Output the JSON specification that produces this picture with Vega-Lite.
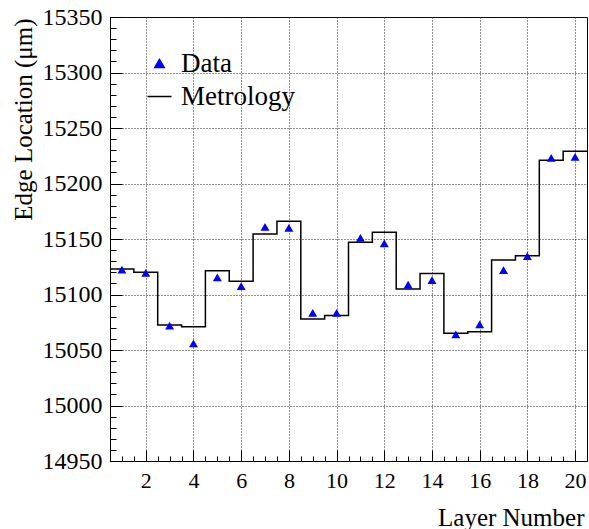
{
  "$schema": "https://vega.github.io/schema/vega-lite/v6.json",
  "width": 477,
  "height": 444,
  "autosize": {"type": "none"},
  "padding": {"left": 110, "top": 17, "right": 2, "bottom": 68},
  "background": "white",
  "config": {
    "font": "Liberation Serif",
    "view": {"stroke": "black", "strokeWidth": 1},
    "style": {"guide-label": {"font": "Liberation Serif"}, "guide-title": {"font": "Liberation Serif"}},
    "axis": {
      "labelFont": "Liberation Serif",
      "titleFont": "Liberation Serif",
      "labelColor": "black",
      "titleColor": "black",
      "titleFontWeight": "normal",
      "domainColor": "black",
      "tickColor": "black"
    }
  },
  "datasets": {
    "points": [
      {"layer": 1, "edge": 15122.5, "series": "Data"},
      {"layer": 2, "edge": 15119.5, "series": "Data"},
      {"layer": 3, "edge": 15072, "series": "Data"},
      {"layer": 4, "edge": 15056, "series": "Data"},
      {"layer": 5, "edge": 15115.5, "series": "Data"},
      {"layer": 6, "edge": 15107.5, "series": "Data"},
      {"layer": 7, "edge": 15161, "series": "Data"},
      {"layer": 8, "edge": 15160, "series": "Data"},
      {"layer": 9, "edge": 15083.5, "series": "Data"},
      {"layer": 10, "edge": 15083.5, "series": "Data"},
      {"layer": 11, "edge": 15151, "series": "Data"},
      {"layer": 12, "edge": 15146, "series": "Data"},
      {"layer": 13, "edge": 15109, "series": "Data"},
      {"layer": 14, "edge": 15113, "series": "Data"},
      {"layer": 15, "edge": 15064, "series": "Data"},
      {"layer": 16, "edge": 15073, "series": "Data"},
      {"layer": 17, "edge": 15122, "series": "Data"},
      {"layer": 18, "edge": 15134.5, "series": "Data"},
      {"layer": 19, "edge": 15223, "series": "Data"},
      {"layer": 20, "edge": 15224, "series": "Data"}
    ],
    "metrology": [
      {"binStart": 0.5, "edge": 15123, "series": "Metrology"},
      {"binStart": 1.5, "edge": 15120, "series": "Metrology"},
      {"binStart": 2.5, "edge": 15072.5, "series": "Metrology"},
      {"binStart": 3.5, "edge": 15071, "series": "Metrology"},
      {"binStart": 4.5, "edge": 15121.5, "series": "Metrology"},
      {"binStart": 5.5, "edge": 15112, "series": "Metrology"},
      {"binStart": 6.5, "edge": 15154.5, "series": "Metrology"},
      {"binStart": 7.5, "edge": 15166, "series": "Metrology"},
      {"binStart": 8.5, "edge": 15078, "series": "Metrology"},
      {"binStart": 9.5, "edge": 15081, "series": "Metrology"},
      {"binStart": 10.5, "edge": 15147, "series": "Metrology"},
      {"binStart": 11.5, "edge": 15156, "series": "Metrology"},
      {"binStart": 12.5, "edge": 15105, "series": "Metrology"},
      {"binStart": 13.5, "edge": 15119, "series": "Metrology"},
      {"binStart": 14.5, "edge": 15065, "series": "Metrology"},
      {"binStart": 15.5, "edge": 15066.5, "series": "Metrology"},
      {"binStart": 16.5, "edge": 15131, "series": "Metrology"},
      {"binStart": 17.5, "edge": 15135, "series": "Metrology"},
      {"binStart": 18.5, "edge": 15221, "series": "Metrology"},
      {"binStart": 19.5, "edge": 15229, "series": "Metrology"},
      {"binStart": 20.5, "edge": 15229, "series": "Metrology"}
    ]
  },
  "layer": [
    {
      "data": {"name": "metrology"},
      "mark": {"type": "line", "interpolate": "step-after", "strokeWidth": 1.5, "clip": true},
      "encoding": {
        "x": {
          "field": "binStart", "type": "quantitative",
          "scale": {"domain": [0.5, 20.5], "nice": false, "zero": false},
          "axis": {
            "orient": "bottom",
            "values": [2, 4, 6, 8, 10, 12, 14, 16, 18, 20],
            "grid": true, "gridColor": "#222", "gridDash": [1, 2], "gridWidth": 1,
            "ticks": false, "labelFont": "Liberation Serif", "labelFontSize": 22, "labelPadding": 9,
            "domain": true, "domainWidth": 1, "format": "d",
            "title": "Layer Number", "titleFont": "Liberation Serif", "titleFontSize": 25,
            "titleX": 474, "titleY": 64, "titleAlign": "right", "titleBaseline": "alphabetic"
          }
        },
        "y": {
          "field": "edge", "type": "quantitative",
          "scale": {"domain": [14950, 15350], "nice": false, "zero": false},
          "axis": {
            "orient": "left",
            "values": [14950, 15000, 15050, 15100, 15150, 15200, 15250, 15300, 15350],
            "grid": true, "gridColor": "#222", "gridDash": [1, 2], "gridWidth": 1,
            "ticks": false, "labelFont": "Liberation Serif", "labelFontSize": 24, "labelPadding": 8,
            "domain": true, "domainWidth": 1, "format": "d",
            "title": "Edge Location (μm)", "titleFont": "Liberation Serif", "titleFontSize": 25,
            "titleAngle": -90, "titleX": -87, "titleY": 1, "titleAlign": "right", "titleBaseline": "middle"
          }
        },
        "color": {
          "field": "series", "type": "nominal",
          "scale": {"domain": ["Data", "Metrology"], "range": ["#0000ff", "#000000"]},
          "legend": {
            "orient": "none", "legendX": 36, "legendY": 33,
            "title": null, "labelFont": "Liberation Serif", "labelFontSize": 27,
            "labelColor": "black", "labelOffset": 8, "rowPadding": 5,
            "symbolType": "triangle-up",
            "encode": {
              "symbols": {
                "update": {
                  "shape": {"signal": "datum.value === 'Metrology' ? 'stroke' : 'triangle-up'"},
                  "size": {"signal": "datum.value === 'Metrology' ? 576 : 90"},
                  "fill": {"signal": "datum.value === 'Metrology' ? 'transparent' : '#0000ff'"},
                  "stroke": {"signal": "datum.value === 'Metrology' ? '#000000' : 'transparent'"},
                  "strokeWidth": {"value": 1.5},
                  "opacity": {"value": 1}
                }
              }
            }
          }
        }
      }
    },
    {
      "data": {"name": "points"},
      "mark": {"type": "point", "shape": "triangle-up", "filled": true, "size": 80, "opacity": 1},
      "encoding": {
        "x": {"field": "layer", "type": "quantitative", "axis": null},
        "y": {"field": "edge", "type": "quantitative", "axis": null},
        "color": {"field": "series", "type": "nominal"}
      }
    },
    {
      "data": {"name": "points"},
      "mark": {"type": "point", "opacity": 0},
      "encoding": {
        "x": {
          "field": "layer", "type": "quantitative",
          "axis": {
            "orient": "bottom",
            "values": [1, 1.5, 2, 2.5, 3, 3.5, 4, 4.5, 5, 5.5, 6, 6.5, 7, 7.5, 8, 8.5, 9, 9.5, 10, 10.5, 11, 11.5, 12, 12.5, 13, 13.5, 14, 14.5, 15, 15.5, 16, 16.5, 17, 17.5, 18, 18.5, 19, 19.5, 20],
            "labels": false, "grid": false, "domain": false, "title": null,
            "ticks": true, "tickSize": -5, "tickWidth": 1
          }
        },
        "y": {
          "field": "edge", "type": "quantitative",
          "axis": {
            "orient": "left",
            "values": [14960, 14970, 14980, 14990, 15010, 15020, 15030, 15040, 15060, 15070, 15080, 15090, 15110, 15120, 15130, 15140, 15160, 15170, 15180, 15190, 15210, 15220, 15230, 15240, 15260, 15270, 15280, 15290, 15310, 15320, 15330, 15340],
            "labels": false, "grid": false, "domain": false, "title": null,
            "ticks": true, "tickSize": -6, "tickWidth": 1
          }
        }
      }
    },
    {
      "data": {"name": "points"},
      "mark": {"type": "point", "opacity": 0},
      "encoding": {
        "x": {
          "field": "layer", "type": "quantitative",
          "axis": {
            "orient": "bottom",
            "values": [2, 4, 6, 8, 10, 12, 14, 16, 18, 20],
            "labels": false, "grid": false, "domain": false, "title": null,
            "ticks": true, "tickSize": -11, "tickWidth": 1
          }
        },
        "y": {
          "field": "edge", "type": "quantitative",
          "axis": {
            "orient": "left",
            "values": [14950, 15000, 15050, 15100, 15150, 15200, 15250, 15300, 15350],
            "labels": false, "grid": false, "domain": false, "title": null,
            "ticks": true, "tickSize": -12, "tickWidth": 1
          }
        }
      }
    }
  ],
  "resolve": {"axis": {"x": "independent", "y": "independent"}}
}
